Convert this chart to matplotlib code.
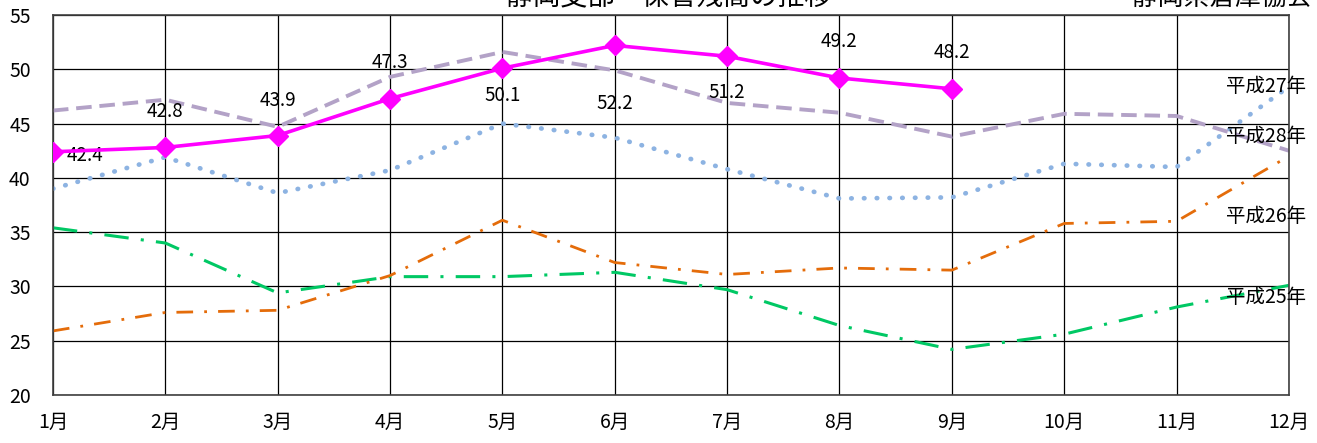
import matplotlib
matplotlib.use("Agg")
import matplotlib.pyplot as plt

plt.rcParams['font.family'] = ['Noto Sans CJK JP', 'DejaVu Sans']

# 月ラベル
months = ['1月', '2月', '3月', '4月', '5月', '6月', '7月', '8月', '9月', '10月', '11月', '12月']

# 保管残高 (各年)
h25 = [35.4, 34.0, 29.4, 30.9, 30.9, 31.3, 29.7, 26.4, 24.2, 25.6, 28.1, 30.1]
h26 = [25.9, 27.6, 27.8, 31.0, 36.1, 32.2, 31.1, 31.7, 31.5, 35.8, 36.0, 42.0]
h27 = [39.0, 41.9, 38.6, 40.7, 45.0, 43.7, 40.8, 38.1, 38.2, 41.3, 41.0, 48.4]
h28 = [46.2, 47.2, 44.7, 49.3, 51.6, 49.9, 46.9, 46.0, 43.8, 45.9, 45.7, 42.5]
h29 = [42.4, 42.8, 43.9, 47.3, 50.1, 52.2, 51.2, 49.2, 48.2]

series_names = ['平成25年', '平成26年', '平成27年', '平成28年']

fig = plt.figure(figsize=(13.17, 4.43), dpi=100)
ax = fig.add_axes([0.0402, 0.1084, 0.9385, 0.8577])

x = list(range(len(months)))

ax.plot(x, h25, color='#00C864', lw=2.2, ls=(0, (8, 4, 1, 4)))
ax.plot(x, h26, color='#E46C0A', lw=2.0, ls=(0, (6, 4, 1, 4)))
ax.plot(x, h27, color='#8DB3E2', lw=3.4, ls=(0, (0.1, 2.6)), dash_capstyle='round')
ax.plot(x, h28, color='#B3A2C7', lw=2.8, ls=(0, (4, 2)))
ax.plot(x[:len(h29)], h29, color='#FF00FF', lw=2.6, marker='D', ms=10,
        markerfacecolor='#FF00FF', markeredgecolor='#FF00FF', zorder=5)

# データラベル (上/下)
offsets = [(23, -3), (0, 26), (0, 25), (0, 26), (0, -20), (0, -42), (0, -26), (0, 26), (0, 26)]
for i, v in enumerate(h29):
    dx, dy = offsets[i]
    ax.annotate(f'{v:.1f}', (i, v), xytext=(dx, dy), textcoords='offset points',
                ha='center', va='center', fontsize=13.5, color='black')

# 右端の系列名
label_y = {'平成27年': 48.45, '平成28年': 43.85, '平成26年': 36.45, '平成25年': 28.95}
for name in series_names:
    ax.text(10.8, label_y[name], name, ha='center', va='center', fontsize=14)

ax.set_xlim(0, 11)
ax.set_ylim(20, 55)
ax.set_yticks(range(20, 56, 5))
ax.set_xticks(x)
ax.set_xticklabels(months, fontsize=14)
ax.tick_params(axis='y', labelsize=14, length=0, pad=16)
ax.tick_params(axis='x', length=0, pad=12)
ax.grid(True, color='black', lw=0.9)
for s in ax.spines.values():
    s.set_color('#404040')
    s.set_linewidth(1.2)

# タイトル (上端で切れている)
fig.text(0.508, 1.005, '静岡支部　保管残高の推移', ha='center', va='center', fontsize=19.5)
fig.text(0.928, 1.005, '静岡県倉庫協会', ha='center', va='center', fontsize=18.5)

fig.savefig('out.png', dpi=100)
